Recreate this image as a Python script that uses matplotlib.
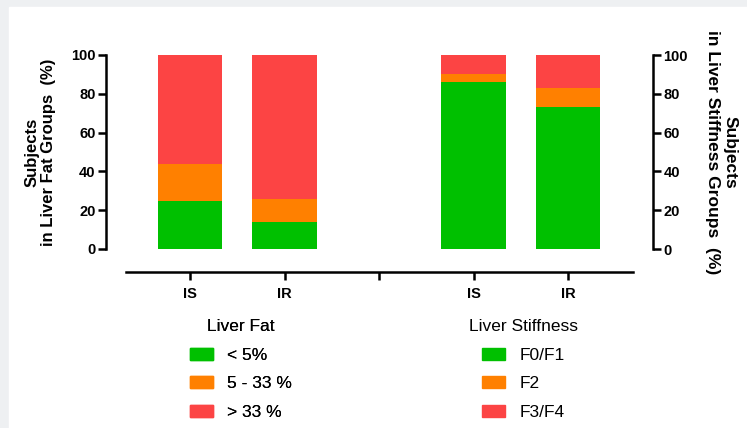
import matplotlib.pyplot as plt
from matplotlib.patches import Rectangle, Patch

plt.rcParams['font.family'] = ['Liberation Sans', 'DejaVu Sans']

# x categories (two groups of two bars, a gap tick between them)
groups = ["IS", "IR", "", "IS", "IR"]
fat_pos = [0, 1]
stiff_pos = [3, 4]

# liver fat groups (%)
fat_low = [25, 14]
fat_mid = [19, 12]
fat_high = [56, 74]

# liver stiffness groups (%)
stiff_f01 = [86, 73]
stiff_f2 = [4, 10]
stiff_f34 = [10, 17]

fat_labels = ["< 5%", "5 - 33 %", "> 33 %"]
stiff_labels = ["F0/F1", "F2", "F3/F4"]

GREEN = "#00c000"
ORANGE = "#ff8000"
RED = "#fc4444"


def stack(ax, pos, low, mid, high):
    bottom2 = [a + b for a, b in zip(low, mid)]
    ax.bar(pos, low, width=0.68, color=GREEN)
    ax.bar(pos, mid, width=0.68, bottom=low, color=ORANGE)
    ax.bar(pos, high, width=0.68, bottom=bottom2, color=RED)


def main():
    W, H = 747, 428
    fig = plt.figure(figsize=(W / 100, H / 100), dpi=100, facecolor="#eef0f2")
    fig.patches.append(Rectangle((9 / W, 0), 1 - 9 / W, 1 - 7 / H,
                                 transform=fig.transFigure, color="white", zorder=-1))

    ax = fig.add_axes([106 / W, 1 - 249 / H, (653 - 106) / W, (249 - 55) / H])
    ax.set_facecolor("none")

    stack(ax, fat_pos, fat_low, fat_mid, fat_high)
    stack(ax, stiff_pos, stiff_f01, stiff_f2, stiff_f34)

    ax.set_xlim(-0.889, 4.899)
    ax.set_ylim(0, 100)
    ax.set_yticks(range(0, 101, 20))

    for s in ["top", "right"]:
        ax.spines[s].set_visible(False)
    ax.spines["bottom"].set_position(("outward", 16.5))
    ax.spines["bottom"].set_bounds(-0.677, 4.69)
    for s in ["left", "bottom"]:
        ax.spines[s].set_linewidth(1.8)
    ax.tick_params(width=1.8, length=5.5, pad=2)
    ax.tick_params(axis="x", pad=5)

    ax.set_ylabel("Subjects\nin Liver Fat Groups  (%)", fontweight="bold",
                  fontsize=12, labelpad=10.5)

    ax2 = ax.twinx()
    ax2.set_ylim(0, 100)
    ax2.set_yticks(range(0, 101, 20))
    for s in ["top", "left", "bottom"]:
        ax2.spines[s].set_visible(False)
    ax2.spines["right"].set_linewidth(1.8)
    ax2.tick_params(width=1.8, length=5.5, pad=2)
    ax2.set_ylabel("Subjects\nin Liver Stiffness Groups  (%)", fontweight="bold",
                   fontsize=12.5, rotation=270, labelpad=36, linespacing=1.25)

    # tick labels after twinx so the bold weight sticks
    ax.set_xticks(range(len(groups)))
    ax.set_xticklabels(groups)
    for t in ax.get_xticklabels() + ax.get_yticklabels() + ax2.get_yticklabels():
        t.set_fontweight("bold")
        t.set_fontsize(10.5)

    colors = [GREEN, ORANGE, RED]
    opts = dict(loc="upper left", frameon=False, fontsize=12.5, title_fontsize=12.5,
                handlelength=1.32, handleheight=0.69, handletextpad=0.8,
                labelspacing=0.78, borderpad=0, borderaxespad=0,
                bbox_transform=fig.transFigure)
    leg1 = fig.legend([Patch(color=c) for c in colors], fat_labels,
                      title="Liver Fat", bbox_to_anchor=(190 / W, 1 - 319 / H), **opts)
    fig.legend([Patch(color=c) for c in colors], stiff_labels,
               title="Liver Stiffness", bbox_to_anchor=(469 / W, 1 - 319 / H), **opts)
    fig.add_artist(leg1)

    fig.savefig("out.png", dpi=100, facecolor=fig.get_facecolor())


if __name__ == "__main__":
    main()
